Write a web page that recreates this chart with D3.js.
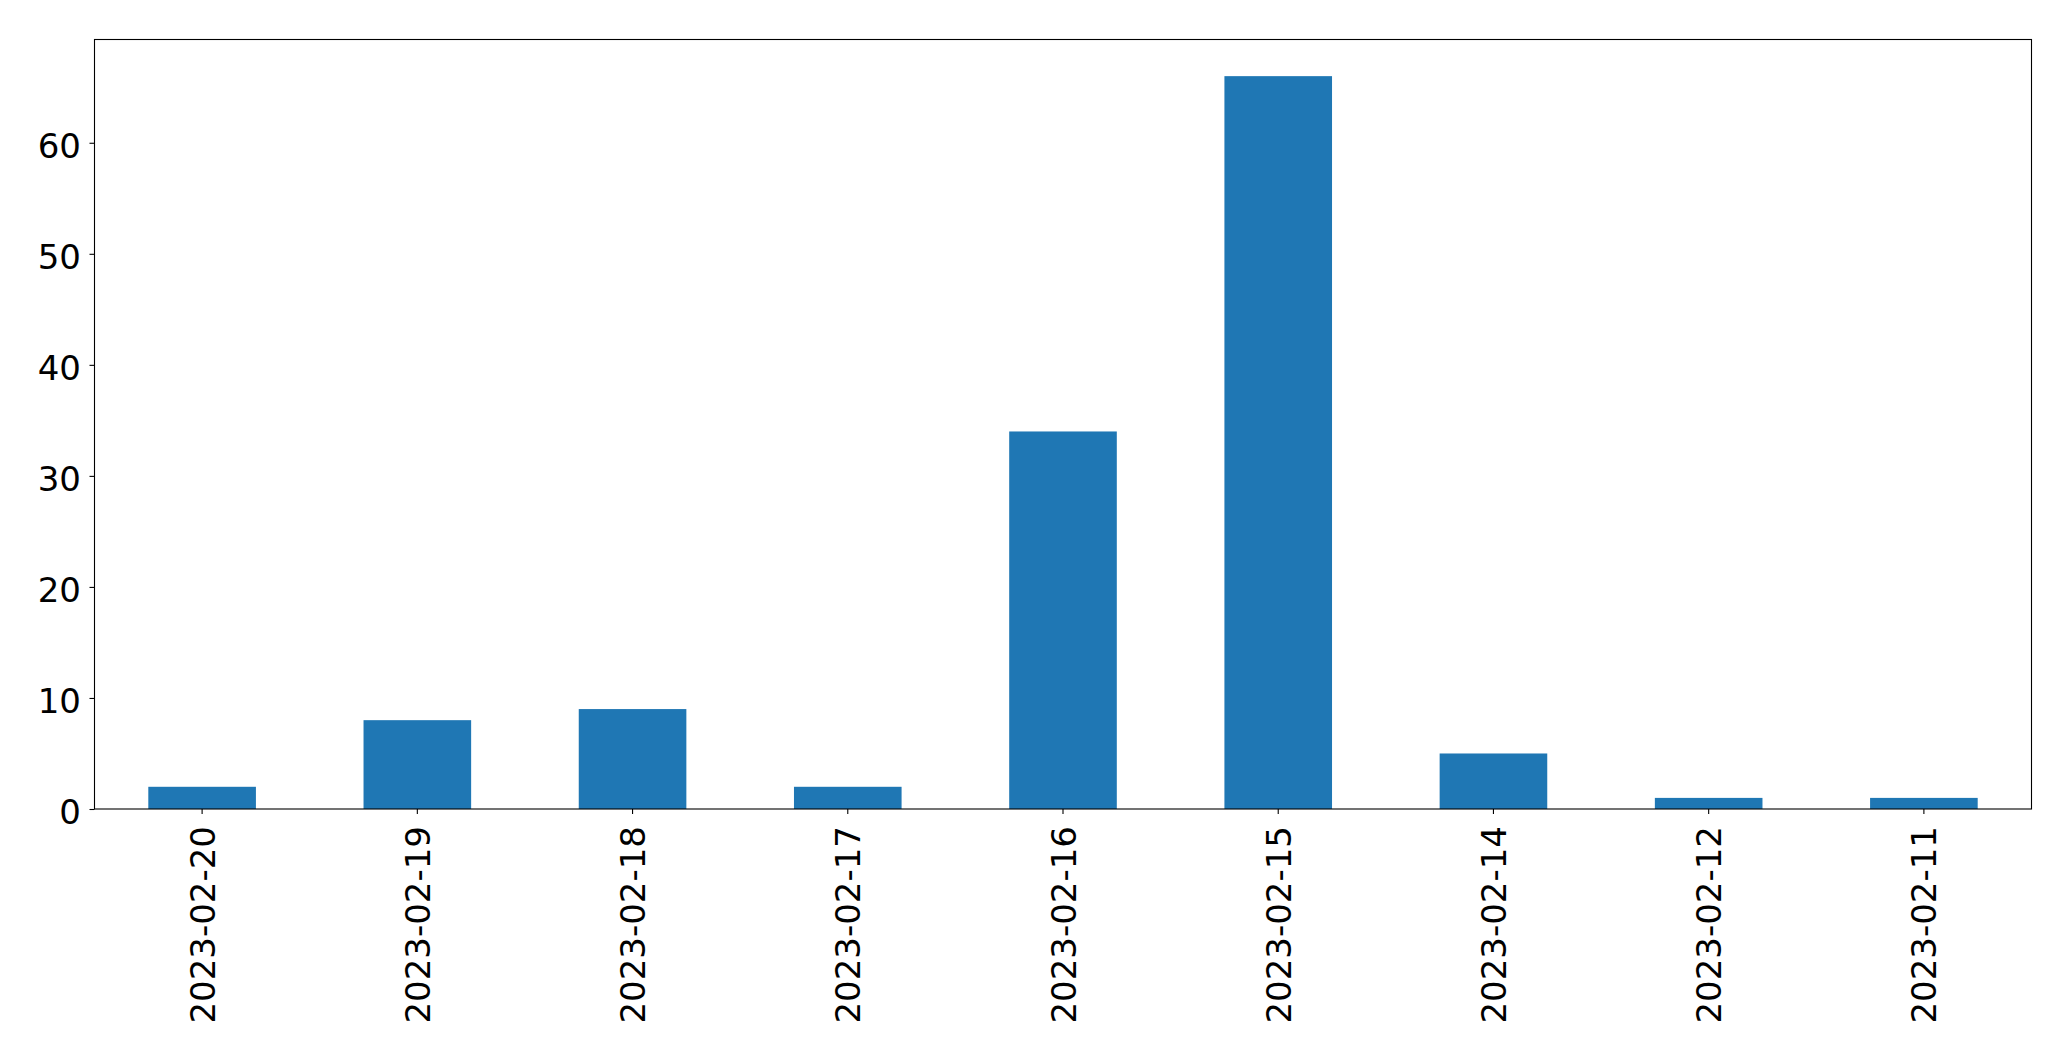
<!DOCTYPE html>
<html>
<head>
<meta charset="utf-8">
<script src="https://cdn.jsdelivr.net/npm/d3@7"></script>
<style>
  html, body { margin: 0; padding: 0; background: #fff; }
  svg { display: block; }
  text { font-family: "DejaVu Sans", sans-serif; fill: #000; }
</style>
</head>
<body>
<svg id="chart" width="2071" height="1061"></svg>
<script>
const categories = ["2023-02-20", "2023-02-19", "2023-02-18", "2023-02-17", "2023-02-16", "2023-02-15", "2023-02-14", "2023-02-12", "2023-02-11"];
const values = [2, 8, 9, 2, 34, 66, 5, 1, 1];
const yTicks = [0, 10, 20, 30, 40, 50, 60];

(function () {
const svg = d3.select("#chart");
const plotLeft = 94.5, plotRight = 2031.5, plotTop = 39.5, plotBottom = 809;
const fontSize = 34;

const x = d3.scaleBand().domain(categories).range([plotLeft, plotRight]).paddingInner(0.5).paddingOuter(0.25);
const y = d3.scaleLinear().domain([0, d3.max(values) * 1.05]).range([plotBottom, plotTop]);

svg.append("g").selectAll("rect").data(values).join("rect")
  .attr("x", (d, i) => x(categories[i]))
  .attr("y", d => y(d))
  .attr("width", x.bandwidth())
  .attr("height", d => y(0) - y(d))
  .attr("fill", "#1f77b4");

// y axis
const yAxis = svg.append("g").attr("transform", `translate(${plotLeft},0)`)
  .call(d3.axisLeft(y).tickValues(yTicks).tickFormat(d3.format("d")).tickSize(5).tickSizeOuter(0).tickPadding(8.5));
yAxis.select(".domain").remove();
yAxis.selectAll("line").attr("stroke", "#000").attr("stroke-width", 1.1);
yAxis.selectAll("text").attr("font-size", fontSize).attr("font-family", "DejaVu Sans").attr("fill", "#000").attr("dy", "0.43em");

// x axis
const xAxis = svg.append("g").attr("transform", `translate(0,${plotBottom})`)
  .call(d3.axisBottom(x).tickSize(5).tickSizeOuter(0));
xAxis.select(".domain").remove();
xAxis.selectAll("line").attr("stroke", "#000").attr("stroke-width", 1.1);
xAxis.selectAll("text")
  .attr("font-size", fontSize).attr("font-family", "DejaVu Sans").attr("fill", "#000")
  .attr("text-anchor", "end")
  .attr("transform", "rotate(-90)")
  .attr("x", -17).attr("y", 0).attr("dy", "0.37em");

// frame
svg.append("rect")
  .attr("x", plotLeft).attr("y", plotTop)
  .attr("width", plotRight - plotLeft).attr("height", plotBottom - plotTop)
  .attr("fill", "none").attr("stroke", "#000").attr("stroke-width", 1.1);
})();
</script>
</body>
</html>
